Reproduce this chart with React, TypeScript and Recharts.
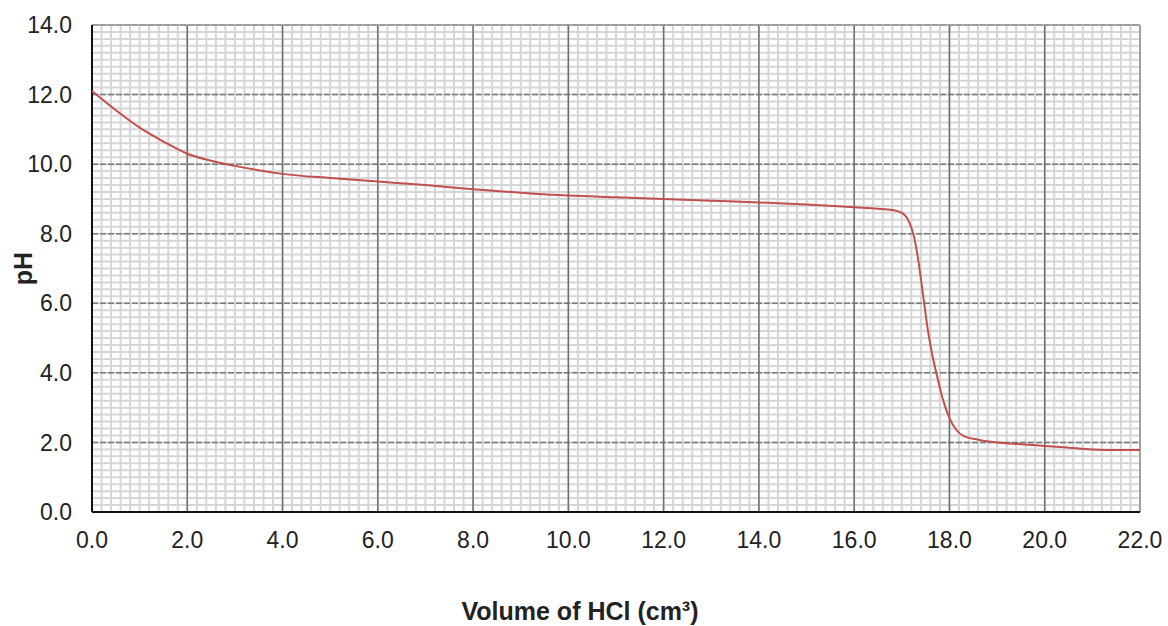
import React from "react";
import {
  LineChart,
  Line,
  XAxis,
  YAxis,
  ReferenceLine,
} from "recharts";

const volume = [
  0, 0.5, 1, 1.5, 2, 2.5, 3, 4, 5, 6, 7, 8, 9, 10, 11, 12, 13, 14, 15, 16,
  16.5, 16.8, 17, 17.15, 17.25, 17.35, 17.45, 17.55, 17.65, 17.75, 17.85, 18,
  18.15, 18.3, 18.6, 19, 19.5, 20, 20.5, 21, 21.5, 22,
];
const ph = [
  12.1, 11.55, 11.05, 10.65, 10.3, 10.1, 9.95, 9.72, 9.6, 9.5, 9.4, 9.28,
  9.18, 9.1, 9.05, 9.0, 8.95, 8.9, 8.84, 8.76, 8.72, 8.68, 8.6, 8.35, 7.95,
  7.2, 6.2, 5.2, 4.45, 3.85, 3.3, 2.7, 2.35, 2.18, 2.08, 2.0, 1.95, 1.9, 1.85,
  1.8, 1.78, 1.78,
];

const xMajor = [0, 2, 4, 6, 8, 10, 12, 14, 16, 18, 20, 22];
const yMajor = [0, 2, 4, 6, 8, 10, 12, 14];

// minor grid every 0.2
const xMinor = Array.from({ length: 111 }, (_, i) => +(i * 0.2).toFixed(1));
const yMinor = Array.from({ length: 71 }, (_, i) => +(i * 0.2).toFixed(1));

const data = volume.map((v, i) => ({ v, ph: ph[i] }));

const FONT = "'Liberation Sans', Arial, sans-serif";
const tickStyle = { fontSize: 23, fill: "#222", fontFamily: FONT };
const titleStyle = { fontSize: 25, fontWeight: 700, fill: "#222", fontFamily: FONT };

export default function App() {
  return (
    <div style={{ position: "absolute", left: 0, top: 0, background: "#fff" }}>
      <LineChart
        width={1168}
        height={626}
        data={data}
        margin={{ top: 25, right: 28, left: 0, bottom: 0 }}
      >
        <XAxis
          type="number"
          dataKey="v"
          domain={[0, 22]}
          ticks={xMajor}
          tickFormatter={(t) => t.toFixed(1)}
          axisLine={false}
          tickLine={false}
          tickSize={0}
          tickMargin={20}
          height={114}
          tick={tickStyle}
          interval={0}
          label={{
            content: () => (
              <text x={580} y={620} textAnchor="middle" style={titleStyle}>
                Volume of HCl (cm³)
              </text>
            ),
          }}
        />
        <YAxis
          type="number"
          domain={[0, 14]}
          ticks={yMajor}
          tickFormatter={(t) => t.toFixed(1)}
          axisLine={false}
          tickLine={false}
          tickSize={0}
          tickMargin={20}
          width={92}
          tick={tickStyle}
          interval={0}
          label={{
            content: (props: any) => {
              const vb = props.viewBox || {};
              const cy = vb.y + vb.height / 2;
              return (
                <text
                  x={23}
                  y={cy}
                  transform={`rotate(-90, 23, ${cy})`}
                  textAnchor="middle"
                  dominantBaseline="central"
                  style={titleStyle}
                >
                  pH
                </text>
              );
            },
          }}
        />
        {xMinor.map((x) => (
          <ReferenceLine key={"xm" + x} x={x} stroke="#d6d6d6" strokeWidth={2} />
        ))}
        {yMinor.map((y) => (
          <ReferenceLine key={"ym" + y} y={y} stroke="#d6d6d6" strokeWidth={2} />
        ))}
        {yMajor.map((y) => (
          <ReferenceLine
            key={"yM" + y}
            y={y}
            stroke="#7a7a7a"
            strokeWidth={1.5}
            strokeDasharray="6 2"
          />
        ))}
        {xMajor.map((x) => (
          <ReferenceLine key={"xM" + x} x={x} stroke="#6e6e6e" strokeWidth={1.5} />
        ))}
        <ReferenceLine x={22} stroke="#a0a0a0" strokeWidth={2} />
        <ReferenceLine y={14} stroke="#a0a0a0" strokeWidth={1.5} />
        <ReferenceLine x={0} stroke="#111" strokeWidth={2} />
        <ReferenceLine y={0} stroke="#111" strokeWidth={2} />
        <Line
          type="monotone"
          dataKey="ph"
          stroke="#c0504d"
          strokeWidth={2}
          dot={false}
          isAnimationActive={false}
        />
      </LineChart>
    </div>
  );
}
